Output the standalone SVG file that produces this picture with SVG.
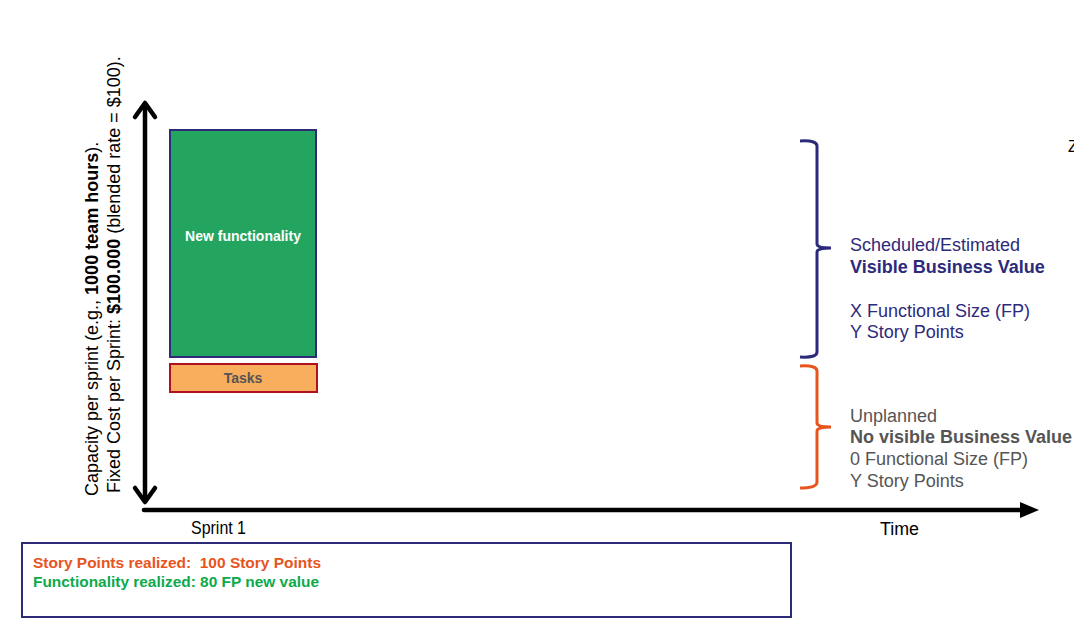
<svg xmlns="http://www.w3.org/2000/svg" width="1074" height="635" viewBox="0 0 1074 635">
<style>
  text { font-family: "Liberation Sans", Arial, sans-serif; }
  .navy { fill: #2E2A7A; font-size: 18px; }
  .gray { fill: #555555; font-size: 18px; }
  .b { font-weight: bold; }
  .narrow { font-family: "Liberation Sans Narrow", "Liberation Sans", Arial, sans-serif; }
  .head { fill: none; stroke: #000; stroke-width: 4.5; stroke-linecap: round; stroke-linejoin: round; }
</style>
<defs>
  <filter id="sh" x="-5%" y="-200%" width="110%" height="500%">
    <feDropShadow dx="0" dy="2" stdDeviation="1" flood-color="#000" flood-opacity="0.35"/>
  </filter>
</defs>
<rect width="1074" height="635" fill="#ffffff"/>

<g id="axis-labels">
  <text transform="translate(98,496) rotate(-90)" font-size="18" fill="#000">Capacity per sprint (e.g., <tspan class="b">1000 team hours</tspan>).</text>
  <text transform="translate(120,493) rotate(-90)" font-size="18" fill="#000">Fixed Cost per Sprint: <tspan class="b">$100.000</tspan> (blended rate = $100).</text>
</g>

<g id="connectors">
  <line id="y-axis" x1="145" y1="105" x2="145" y2="501" stroke="#000" stroke-width="4.5"/>
  <path class="head" d="M135,117 L145,103 L155,117"/>
  <path class="head" d="M135,488 L145,502 L155,488"/>
  <line id="x-axis" x1="144" y1="510" x2="1022" y2="510" stroke="#000" stroke-width="4.5" stroke-linecap="round"/>
  <polygon points="1020,502 1039,510 1020,518" fill="#000"/>
  <line id="divider" x1="157" y1="362" x2="830" y2="362" stroke="#3A80C2" stroke-width="2.5" filter="url(#sh)"/>
  <path id="brace-planned" d="M800,141 Q817,140 817,146 L817,244 Q817,248 831,248 Q817,248 817,252 L817,352 Q817,358 800,357" fill="none" stroke="#2E2A7A" stroke-width="3"/>
  <path id="brace-unplanned" d="M800,366 Q817,365 817,371 L817,423 Q817,427 831,427 Q817,427 817,431 L817,482 Q817,488 800,488" fill="none" stroke="#E8541E" stroke-width="3"/>
</g>

<g id="node-new-functionality">
  <rect x="170" y="130" width="146" height="227" fill="#23A55F" stroke="#2E2A7A" stroke-width="2"/>
  <text x="243" y="241" text-anchor="middle" font-size="14" font-weight="bold" fill="#ffffff">New functionality</text>
</g>

<g id="node-tasks">
  <rect x="170" y="364" width="147" height="28" fill="#F8AE5C" stroke="#B01020" stroke-width="2"/>
  <text x="243" y="383" text-anchor="middle" font-size="14" font-weight="bold" fill="#555555">Tasks</text>
</g>

<g id="label-planned">
  <text x="850" y="251" class="navy">Scheduled/Estimated</text>
  <text x="850" y="273" class="navy b">Visible Business Value</text>
  <text x="850" y="317" class="navy">X Functional Size (FP)</text>
  <text x="850" y="338" class="navy">Y Story Points</text>
</g>

<g id="label-unplanned">
  <text x="850" y="422" class="gray">Unplanned</text>
  <text x="850" y="443" class="gray b">No visible Business Value</text>
  <text x="850" y="465" class="gray">0 Functional Size (FP)</text>
  <text x="850" y="487" class="gray">Y Story Points</text>
</g>

<g id="label-z">
  <text x="1068" y="152" font-size="16" fill="#000">Z</text>
</g>

<g id="x-labels">
  <text x="191" y="534" class="narrow" font-size="17.5" fill="#000" textLength="55" lengthAdjust="spacingAndGlyphs">Sprint 1</text>
  <text x="880" y="535" class="narrow" font-size="17.5" fill="#000" textLength="39" lengthAdjust="spacingAndGlyphs">Time</text>
</g>

<g id="summary-box">
  <rect x="22" y="543" width="769" height="74" fill="#ffffff" stroke="#2E2A7A" stroke-width="2"/>
  <text x="33" y="568" class="narrow b" font-size="15" fill="#E8541E" textLength="288" lengthAdjust="spacingAndGlyphs" xml:space="preserve">Story Points realized:  100 Story Points</text>
  <text x="33" y="587" class="narrow b" font-size="15" fill="#0DAA4B" textLength="286" lengthAdjust="spacingAndGlyphs">Functionality realized: 80 FP new value</text>
</g>
</svg>
